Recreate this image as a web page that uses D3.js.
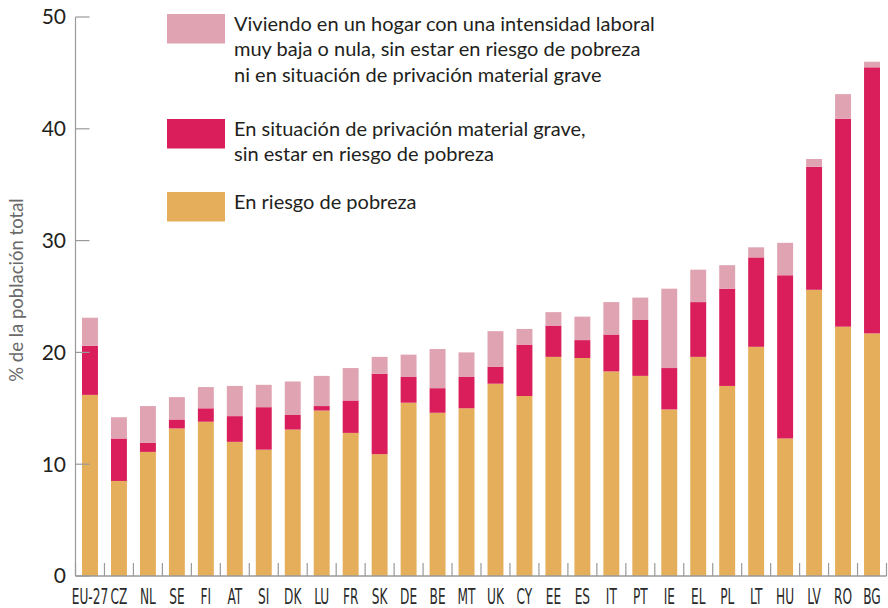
<!DOCTYPE html>
<html>
<head>
<meta charset="utf-8">
<script src="https://cdn.jsdelivr.net/npm/d3@7"></script>
<style>
  body { margin: 0; background: #fff; }
  text { fill: #231f20; }
</style>
</head>
<body>
<div id="chart"></div>
<script>
const width = 888,
  height = 608,
  margin = { top: 17, right: 1.5, bottom: 32, left: 75.5 };

// data (% of total population)
const countries = ["EU-27", "CZ", "NL", "SE", "FI", "AT", "SI", "DK", "LU", "FR", "SK", "DE", "BE", "MT",
  "UK", "CY", "EE", "ES", "IT", "PT", "IE", "EL", "PL", "LT", "HU", "LV", "RO", "BG"];
const povertyRisk = [16.2, 8.5, 11.1, 13.2, 13.8, 12.0, 11.3, 13.1, 14.8, 12.8, 10.9, 15.5, 14.6, 15.0,
  17.2, 16.1, 19.6, 19.5, 18.3, 17.9, 14.9, 19.6, 17.0, 20.5, 12.3, 25.6, 22.3, 21.7];
const deprivation = [4.4, 3.8, 0.8, 0.8, 1.2, 2.3, 3.8, 1.3, 0.4, 2.9, 7.2, 2.3, 2.2, 2.8,
  1.5, 4.6, 2.8, 1.6, 3.3, 5.0, 3.7, 4.9, 8.7, 8.0, 14.6, 11.0, 18.6, 23.8];
const lowWork = [2.5, 1.9, 3.3, 2.0, 1.9, 2.7, 2.0, 3.0, 2.7, 2.9, 1.5, 2.0, 3.5, 2.2,
  3.2, 1.4, 1.2, 2.1, 2.9, 2.0, 7.1, 2.9, 2.1, 0.9, 2.9, 0.7, 2.2, 0.5];
const yTicks = [0, 10, 20, 30, 40, 50];

const seriesKeys = ["risk", "depr", "work"];
const colors = { risk: "#e4ae5a", depr: "#d91e5b", work: "#e0a3b1" };
const legendItems = [
  { key: "work", lines: ["Viviendo en un hogar con una intensidad laboral",
    "muy baja o nula, sin estar en riesgo de pobreza",
    "ni en situación de privación material grave"] },
  { key: "depr", lines: ["En situación de privación material grave,",
    "sin estar en riesgo de pobreza"] },
  { key: "risk", lines: ["En riesgo de pobreza"] }
];

const rows = countries.map((c, i) => ({ country: c, risk: povertyRisk[i], depr: deprivation[i], work: lowWork[i] }));

const svg = d3.select("#chart")
  .append("svg")
  .attr("width", width)
  .attr("height", height);

const x = d3.scaleBand()
  .domain(countries)
  .range([margin.left, width - margin.right])
  .paddingInner(0.45)
  .paddingOuter(0.225);

const y = d3.scaleLinear()
  .domain([0, 50])
  .range([height - margin.bottom, margin.top]);

const stacked = d3.stack().keys(seriesKeys)(rows);

svg.append("g")
  .selectAll("g")
  .data(stacked)
  .join("g")
  .attr("fill", d => colors[d.key])
  .selectAll("rect")
  .data(d => d)
  .join("rect")
  .attr("x", d => x(d.data.country))
  .attr("width", x.bandwidth())
  .attr("y", d => y(d[1]))
  .attr("height", d => y(d[0]) - y(d[1]));

const axisColor = "#9a9a9a";

// y axis, ticks pointing inward
const yAxis = svg.append("g");
yAxis.append("line")
  .attr("x1", margin.left).attr("x2", margin.left)
  .attr("y1", y(50)).attr("y2", y(0))
  .attr("stroke", axisColor).attr("stroke-width", 1.2);
yAxis.selectAll(".ytick")
  .data(yTicks)
  .join("line")
  .attr("x1", margin.left).attr("x2", margin.left + 14)
  .attr("y1", d => y(d)).attr("y2", d => y(d))
  .attr("stroke", axisColor).attr("stroke-width", 1.2);
yAxis.selectAll(".ylab")
  .data(yTicks)
  .join("text")
  .attr("x", 66)
  .attr("y", d => y(d))
  .attr("dy", "0.35em")
  .attr("text-anchor", "end")
  .style("font-family", "Lato, 'Open Sans', sans-serif")
  .style("font-size", "21px")
  .text(d => d);

// baseline and category separators
const xAxis = svg.append("g");
xAxis.append("line")
  .attr("x1", margin.left).attr("x2", width - margin.right)
  .attr("y1", y(0)).attr("y2", y(0))
  .attr("stroke", axisColor).attr("stroke-width", 1.5);
const bounds = d3.range(countries.length + 1).map(i => margin.left + i * x.step());
xAxis.selectAll(".sep")
  .data(bounds)
  .join("line")
  .attr("x1", d => d).attr("x2", d => d)
  .attr("y1", y(0)).attr("y2", y(0) - 13)
  .attr("stroke", axisColor).attr("stroke-width", 1.2);
xAxis.selectAll(".xlab")
  .data(countries)
  .join("text")
  .attr("transform", d => `translate(${x(d) + x.bandwidth() / 2},603.5) scale(0.66,1)`)
  .attr("text-anchor", "middle")
  .style("font-family", "'Liberation Sans Narrow', 'DejaVu Sans Condensed', sans-serif")
  .style("font-size", "20.5px")
  .style("fill", "#2a2a2a")
  .text(d => d);

// y title
svg.append("text")
  .attr("transform", `translate(23,${(193 + 387) / 2}) rotate(-90)`)
  .attr("text-anchor", "middle")
  .style("font-family", "Lato, 'Open Sans', sans-serif")
  .style("font-size", "18.5px")
  .style("fill", "#6a6a6a")
  .text("% de la población total");

// legend
const legendY = [14, 119, 192];
const legend = svg.append("g");
legendItems.forEach((item, i) => {
  legend.append("rect")
    .attr("x", 167).attr("y", legendY[i])
    .attr("width", 58).attr("height", 29.5)
    .attr("fill", colors[item.key]);
  legend.append("text")
    .attr("x", 234)
    .attr("y", legendY[i] + 17)
    .style("font-family", "Lato, 'Open Sans', sans-serif")
    .style("font-size", "20px")
    .selectAll("tspan")
    .data(item.lines)
    .join("tspan")
    .attr("x", 234)
    .attr("dy", (d, j) => j === 0 ? 0 : 25.3)
    .text(d => d);
});
</script>
</body>
</html>
